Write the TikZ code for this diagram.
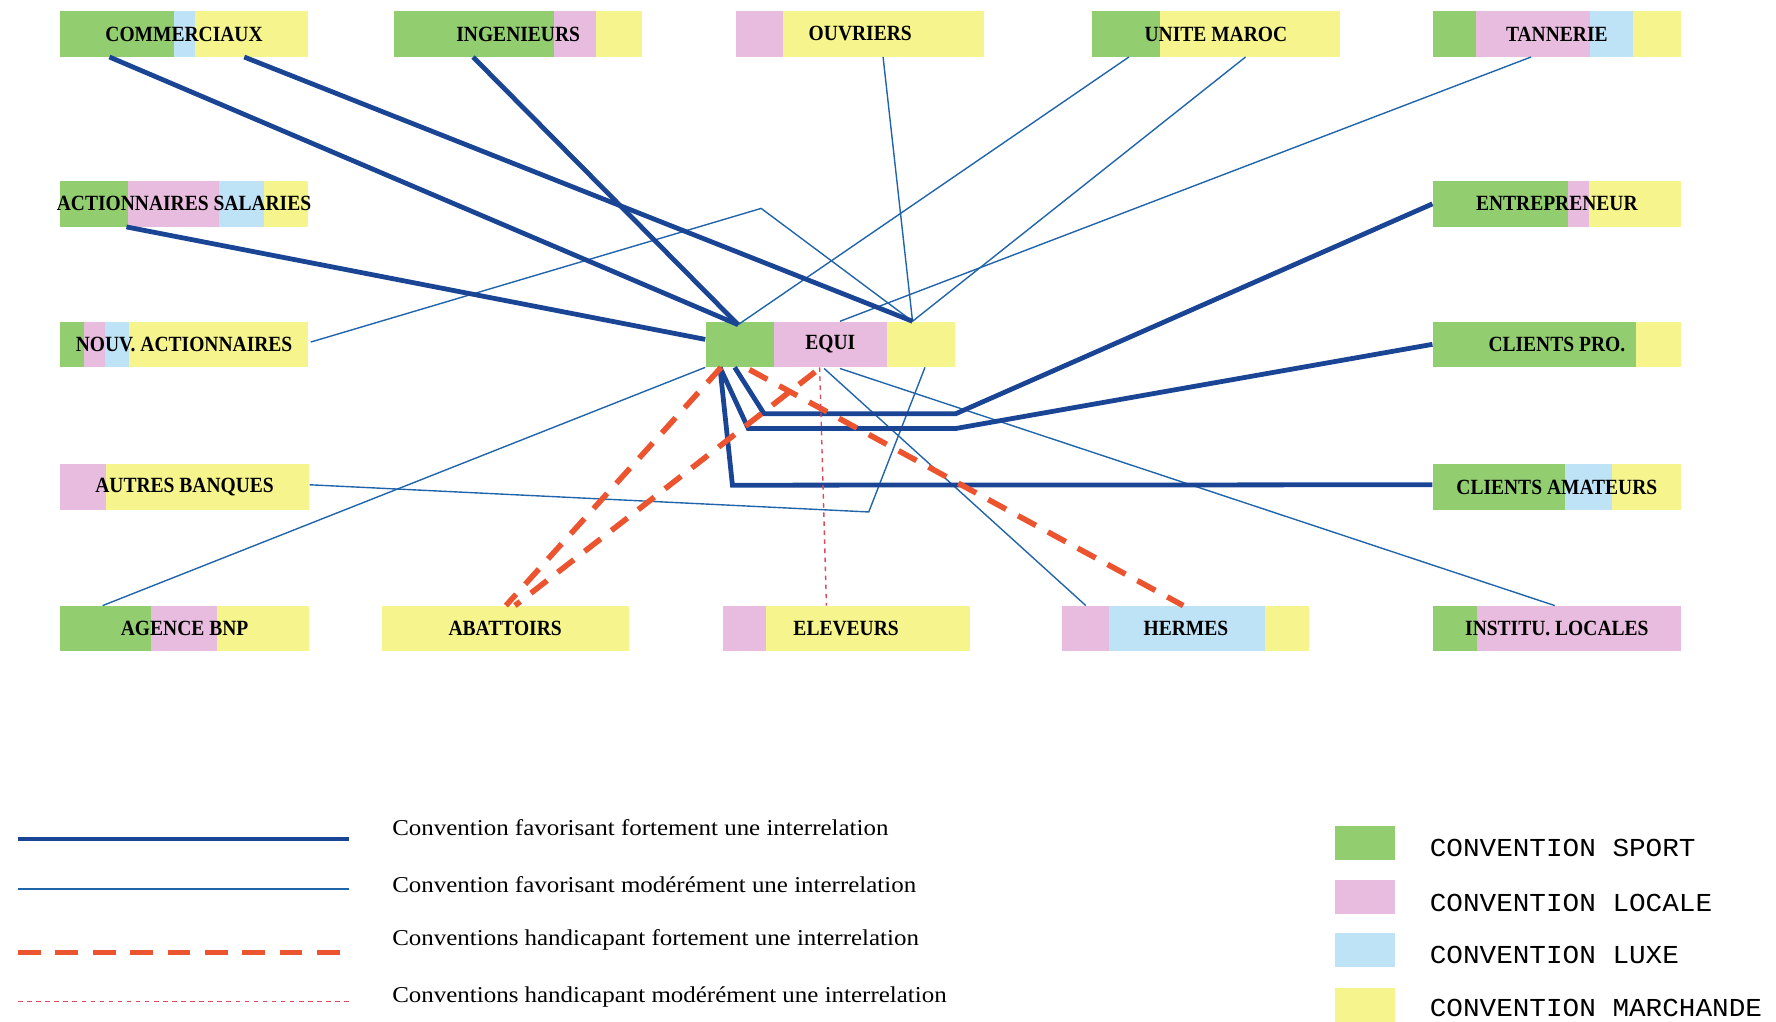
\documentclass[tikz,border=0pt]{standalone}
\usepackage{fontspec}
\setmainfont{Liberation Serif}
\newfontfamily\boxfont[FakeStretch=0.9]{Liberation Serif}
\newfontfamily\legfont[FakeStretch=1.1]{Liberation Serif}
\newfontfamily\legmono[FakeStretch=1.07]{Liberation Mono}
\usetikzlibrary{calc}

\definecolor{cSport}{RGB}{146,206,112}
\definecolor{cLocale}{RGB}{232,188,222}
\definecolor{cLuxe}{RGB}{190,226,246}
\definecolor{cMarch}{RGB}{246,244,140}
\definecolor{strongblue}{RGB}{26,68,148}
\definecolor{thinblue}{RGB}{32,100,170}
\definecolor{handired}{RGB}{236,84,48}
\definecolor{dotred}{RGB}{222,72,92}

% segmented actor box: name, x0, x1, ytop, label, colour/xend list
\newcommand{\segbox}[6]{%
  \foreach \c/\xe [remember=\xe as \xs (initially #2)] in {#6}
    \fill[\c] (\xs,#4) rectangle (\xe,#4+40);
  \node[boxlbl, minimum width={(#3-#2)*0.02cm}] (#1) at ({(#2+#3)/2},#4+20) {\makebox[0pt]{#5}};
}

\begin{document}
\begin{tikzpicture}[x=0.02cm, y=-0.02cm,
  boxlbl/.style={inner sep=0pt, minimum height=0.8cm,
    font=\boxfont\bfseries\fontsize{10.9}{12}\selectfont},
  strong/.style={strongblue, line width=2.4pt},
  moderate/.style={thinblue, line width=0.7pt},
  hstrong/.style={handired, line width=2.8pt, dash pattern=on 0.36cm off 0.24cm},
  hmod/.style={dotred, line width=0.7pt, dash pattern=on 0.08cm off 0.08cm},
  legtxt/.style={anchor=west, inner sep=0pt, font=\legfont\fontsize{11.4}{13}\selectfont},
  monotxt/.style={anchor=west, inner sep=0pt, font=\legmono\fontsize{13}{15}\selectfont},
  swatch/.style={inner sep=0pt, minimum width=1.06cm, minimum height=0.6cm}]

\fill[white] (0,0) rectangle (1568,902);
\useasboundingbox (0,0) rectangle (1568,902);

% actors
\segbox{comm}{53}{272}{10}{COMMERCIAUX}{cSport/154,cLuxe/172,cMarch/272}
\segbox{inge}{348}{567}{10}{INGENIEURS}{cSport/489,cLocale/526,cMarch/567}
\segbox{ouvr}{650}{869}{10}{OUVRIERS}{cLocale/691,cMarch/869}
\segbox{unite}{964}{1183}{10}{UNITE MAROC}{cSport/1024,cMarch/1183}
\segbox{tann}{1265}{1484}{10}{TANNERIE}{cSport/1303,cLocale/1404,cLuxe/1442,cMarch/1484}
\segbox{actsal}{53}{272}{160}{ACTIONNAIRES SALARIES}{cSport/113,cLocale/193,cLuxe/233,cMarch/272}
\segbox{entr}{1265}{1484}{160}{ENTREPRENEUR}{cSport/1384,cLocale/1403,cMarch/1484}
\segbox{nouv}{53}{272}{284}{NOUV. ACTIONNAIRES}{cSport/74,cLocale/93,cLuxe/114,cMarch/272}
\segbox{equi}{623}{843}{284}{EQUI}{cSport/683,cLocale/783,cMarch/843}
\segbox{clpro}{1265}{1484}{284}{CLIENTS PRO.}{cSport/1444,cMarch/1484}
\segbox{autres}{53}{273}{410}{AUTRES BANQUES}{cLocale/94,cMarch/273}
\segbox{clam}{1265}{1484}{410}{CLIENTS AMATEURS}{cSport/1382,cLuxe/1423,cMarch/1484}
\segbox{bnp}{53}{273}{535}{AGENCE BNP}{cSport/133,cLocale/192,cMarch/273}
\segbox{abat}{337}{555}{535}{ABATTOIRS}{cMarch/555}
\segbox{elev}{638}{856}{535}{ELEVEURS}{cLocale/676,cMarch/856}
\segbox{herm}{938}{1156}{535}{HERMES}{cLocale/979,cLuxe/1117,cMarch/1156}
\segbox{inst}{1265}{1484}{535}{INSTITU. LOCALES}{cSport/1304,cLocale/1484}

% moderately favourable links
\draw[moderate] ($(unite.south west)+(33,0)$) -- ($(equi.north west)+(29,3)$);
\draw[moderate] ($(ouvr.south west)+(130,0)$) -- ($(equi.north west)+(183,0)$);
\draw[moderate] ($(unite.south west)+(136,0)$) -- ($(equi.north west)+(183,0)$);
\draw[moderate] ($(tann.south west)+(87,0)$) -- ($(equi.north west)+(119,0)$);
\coordinate (k1) at (672,184);
\draw[moderate] ($(nouv.east)+(2,-2)$) -- (k1) -- ($(equi.north west)+(183,0)$);
\draw[moderate] ($(bnp.north west)+(38,0)$) -- (equi.south west);
\coordinate (k2) at (767,452);
\draw[moderate] ($(autres.east)+(0,-2)$) -- (k2) -- ($(equi.south west)+(194,0)$);
\draw[moderate] ($(equi.south west)+(105,1)$) -- ($(herm.north west)+(21,0)$);
\draw[moderate] ($(equi.south west)+(119,1)$) -- ($(inst.north west)+(108,0)$);

% strongly favourable links
\draw[strong] ($(comm.south west)+(44,0)$) -- ($(equi.north west)+(29,3)$);
\draw[strong] ($(comm.south west)+(163,0)$) -- ($(equi.north west)+(183,0)$);
\draw[strong] ($(inge.south west)+(70,0)$) -- ($(equi.north west)+(29,3)$);
\draw[strong] ($(actsal.south west)+(59,0)$) -- ($(equi.north west)+(0,16)$);
\draw[strong] ($(equi.south west)+(26,0)$) -- ($(equi.south west)+(52,41)$)
  -- ($(equi.south west)+(221,41)$) -- (entr.west);
\draw[strong] ($(equi.south west)+(13,0)$) -- ($(equi.south west)+(38,54)$)
  -- ($(equi.south west)+(221,54)$) -- (clpro.west);
\draw[strong] ($(equi.south west)+(13,0)$) -- ($(equi.south west)+(24,104)$)
  -- ($(clam.west)+(0,-2)$);

% handicapping links
\draw[hstrong] ($(equi.south west)+(14,0)$) -- ($(abat.north west)+(110,0)$);
\draw[hstrong] ($(equi.south west)+(97,4)$) -- ($(abat.north west)+(118,0)$);
\draw[hstrong] ($(equi.south west)+(39,2)$) -- ($(herm.north west)+(107,0)$);
\draw[hmod] ($(equi.south west)+(101,0)$) -- ($(elev.north west)+(92,0)$);

% legend: link types
\coordinate (la) at (16,741); \coordinate (lb) at (308,741);
\coordinate (ma) at (16,785); \coordinate (mb) at (308,785);
\coordinate (na) at (16,841); \coordinate (nb) at (308,841);
\coordinate (oa) at (16,884); \coordinate (ob) at (308,884);
\draw[strongblue, line width=2.2pt] (la) -- (lb);
\draw[moderate] (ma) -- (mb);
\draw[handired, line width=2.8pt, dash pattern=on 0.4cm off 0.26cm] (na) -- (nb);
\draw[hmod] (oa) -- (ob);
\node[legtxt] (t1) at (346,731) {Convention favorisant fortement une interrelation};
\node[legtxt] (t2) at (346,781) {Convention favorisant modérément une interrelation};
\node[legtxt] (t3) at (346,830) {Conventions handicapant fortement une interrelation};
\node[legtxt] (t4) at (346,880) {Conventions handicapant modérément une interrelation};

% legend: conventions
\node[swatch, fill=cSport]  (s1) at (1205,744) {};
\node[swatch, fill=cLocale] (s2) at (1205,792) {};
\node[swatch, fill=cLuxe]   (s3) at (1205,839) {};
\node[swatch, fill=cMarch]  (s4) at (1205,887) {};
\node[monotxt] (c1) at (1262,749) {CONVENTION SPORT};
\node[monotxt] (c2) at (1262,797) {CONVENTION LOCALE};
\node[monotxt] (c3) at (1262,843) {CONVENTION LUXE};
\node[monotxt] (c4) at (1262,890) {CONVENTION MARCHANDE};
\end{tikzpicture}
\end{document}
